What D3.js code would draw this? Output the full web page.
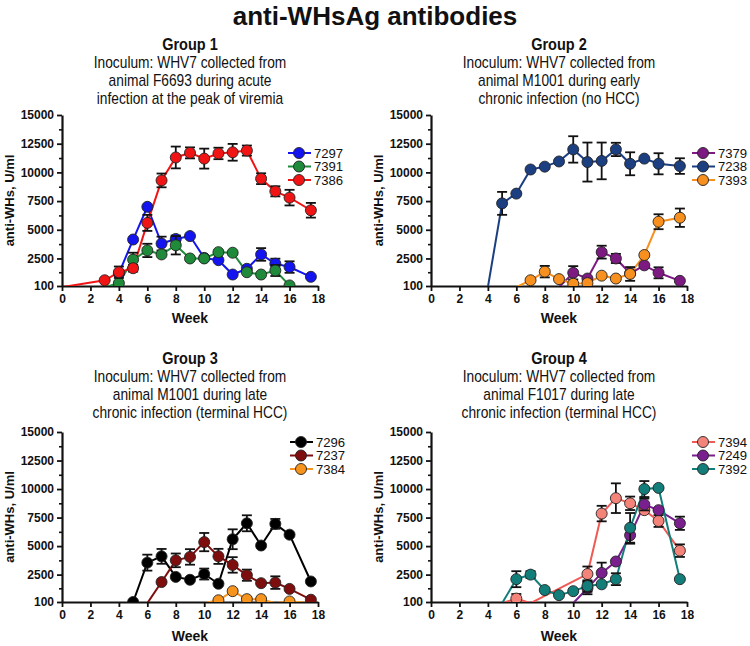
<!DOCTYPE html>
<html><head><meta charset="utf-8">
<script src="https://cdn.jsdelivr.net/npm/d3@7"></script>
<style>body{margin:0;background:#fff}svg{display:block}</style>
</head><body>
<svg id="c" width="750" height="646"></svg>
<script>
// ---------- data ----------
const xTicks = [0,2,4,6,8,10,12,14,16,18];
const yTicks = [100,2500,5000,7500,10000,12500,15000];
const yMinorTicks = [1300,3750,6250,8750,11250,13750];

const chartTitle = "anti-WHsAg antibodies";
const groupTitles = ["Group 1","Group 2","Group 3","Group 4"];
const groupLines1 = ["Inoculum: WHV7 collected from","animal F6693 during acute","infection at the peak of viremia"];
const groupLines2 = ["Inoculum: WHV7 collected from","animal M1001 during early","chronic infection (no HCC)"];
const groupLines3 = ["Inoculum: WHV7 collected from","animal M1001 during late","chronic infection (terminal HCC)"];
const groupLines4 = ["Inoculum: WHV7 collected from","animal F1017 during late","chronic infection (terminal HCC)"];

// Group 1
const g1Names = ["7297","7391","7386"];
const w7297 = [4,5,6,7,8,9,10,11,12,13,14,15,16,17.5];
const v7297 = [1200,4150,7000,3800,4200,4450,2550,2350,1100,1600,2850,2050,1750,900];
const e7297 = [0,0,0,600,300,0,0,0,0,0,550,430,500,0];
const w7391 = [3,4,5,6,7,8,9,10,11,12,13,14,15,16];
const v7391 = [0,350,2400,3200,2850,3650,2500,2500,3050,3000,1300,1100,1450,150];
const e7391 = [0,0,600,580,0,800,0,0,0,0,0,0,480,0];
const w7386 = [0,3,4,5,6,7,8,9,10,11,12,13,14,15,16,17.5];
const v7386 = [0,600,1300,1650,5600,9300,11300,11700,11200,11650,11750,11900,9450,8350,7800,6700];
const e7386 = [0,0,500,300,700,600,950,480,870,500,730,440,470,440,680,640];

// Group 2
const g2Names = ["7379","7238","7393"];
const w7379 = [9,10,11,12,13,14,15,16,17.5];
const v7379 = [0,1250,750,3050,2500,1200,1900,1250,550];
const e7379 = [0,580,0,560,400,0,0,480,0];
const w7238 = [4,5,6,7,8,9,10,11,12,13,14,15,16,17.5];
const v7238 = [0,7300,8150,10250,10500,10950,12000,10900,11000,12000,10750,11200,10750,10550];
const e7238 = [0,1000,0,0,0,0,1150,1700,1600,580,1000,0,920,680];
const w7393 = [6,7,8,9,10,11,12,13,14,15,16,17.5];
const v7393 = [0,600,1350,700,300,350,1000,750,1150,2800,5700,6050];
const e7393 = [0,0,500,0,0,0,0,0,600,0,650,800];

// Group 3
const g3Names = ["7296","7237","7384"];
const w7296 = [5,6,7,8,9,10,11,12,13,14,15,16,17.5];
const v7296 = [100,3550,4100,2300,2050,2550,1700,5600,7000,5050,6950,6000,1900];
const e7296 = [0,700,650,0,0,480,0,870,700,0,430,0,0];
const w7237 = [6,7,8,9,10,11,12,13,14,15,16,17.5];
const v7237 = [0,1850,3750,4050,5350,4100,3350,2450,1750,1800,1250,300];
const e7237 = [0,0,600,680,800,660,680,490,0,550,0,0];
const w7384 = [10,11,12,13,14,15,16,17.5];
const v7384 = [0,250,1050,350,350,0,150,0];
const e7384 = [0,0,0,0,0,0,0,0];

// Group 4
const g4Names = ["7394","7249","7392"];
const w7394 = [5,6,7,11,12,13,14,15,16,17.5];
const v7394 = [0,400,0,2550,7850,9200,8750,8150,7200,4600];
const e7394 = [0,400,0,660,680,1300,590,0,520,550];
const w7249 = [10,11,12,13,14,15,16,17.5];
const v7249 = [0,1300,2650,3650,5950,8650,8150,7000];
const e7249 = [0,520,900,0,740,520,0,580];
const w7392 = [5,6,7,8,9,10,11,12,13,14,15,16,17.5];
const v7392 = [0,2100,2500,1150,700,1050,1500,1650,2100,6600,10000,10100,2100];
const e7392 = [0,700,300,0,0,0,500,0,520,1300,700,0,0];

// ---------- styles ----------
const FONT = "'Liberation Sans', Arial, Helvetica, sans-serif";
const colors = {
  "7297":["#1414f0","#1414f0"], "7391":["#1f8a3a","#1f8a3a"], "7386":["#f01414","#f01414"],
  "7379":["#7d1a82","#7d1a82"], "7238":["#1b3f80","#1b3f80"], "7393":["#f7901e","#f7901e"],
  "7296":["#000000","#000000"], "7237":["#7e0e0e","#7e0e0e"], "7384":["#f7941d","#f7941d"],
  "7394":["#ef5a55","#f4847a"], "7249":["#7a1f8e","#7a1f8e"], "7392":["#137e79","#137e79"]
};

const seriesData = {
  "7297":[w7297,v7297,e7297],"7391":[w7391,v7391,e7391],"7386":[w7386,v7386,e7386],
  "7379":[w7379,v7379,e7379],"7238":[w7238,v7238,e7238],"7393":[w7393,v7393,e7393],
  "7296":[w7296,v7296,e7296],"7237":[w7237,v7237,e7237],"7384":[w7384,v7384,e7384],
  "7394":[w7394,v7394,e7394],"7249":[w7249,v7249,e7249],"7392":[w7392,v7392,e7392]
};

const svg = d3.select("#c");

function ctext(parent, x, y, str, size, weight, sx, anchor){
  return parent.append("text")
    .attr("transform", `translate(${x},${y}) scale(${sx},1)`)
    .attr("text-anchor", anchor || "middle")
    .attr("font-family", FONT).attr("font-size", size).attr("font-weight", weight)
    .attr("fill", "#111").text(str);
}

ctext(svg, 375, 25, chartTitle, 26, "bold", 1, "middle");

const panels = [
  {x0:62, x1:318, top:115, bottom:286, names:g1Names, title:groupTitles[0], lines:groupLines1, tY:50, legX:299, legY:153, weekY:323},
  {x0:431, x1:687, top:115, bottom:286, names:g2Names, title:groupTitles[1], lines:groupLines2, tY:50, legX:703, legY:153, weekY:323},
  {x0:62, x1:318, top:432, bottom:602, names:g3Names, title:groupTitles[2], lines:groupLines3, tY:364, legX:301, legY:442, weekY:641},
  {x0:431, x1:687, top:432, bottom:602, names:g4Names, title:groupTitles[3], lines:groupLines4, tY:364, legX:703, legY:442, weekY:641}
];

panels.forEach((p, pi) => {
  const g = svg.append("g");
  const cx = (p.x0 + p.x1) / 2;
  // titles
  ctext(g, cx, p.tY, p.title, 16.5, "bold", 0.88);
  p.lines.forEach((l, i) => ctext(g, cx, p.tY + 18*(i+1), l, 16, "normal", 0.86));

  const x = d3.scaleLinear().domain([0,18]).range([p.x0, p.x1]);
  const y = d3.scaleLinear().domain([100,15000]).range([p.bottom, p.top]);

  const clipId = "clip" + pi;
  svg.append("clipPath").attr("id", clipId).append("rect")
    .attr("x", p.x0 - 8).attr("y", p.top - 20).attr("width", p.x1 - p.x0 + 20).attr("height", p.bottom - p.top + 20);

  // axes
  const yMinor = g.append("g").attr("transform", `translate(${p.x0},0)`)
    .call(d3.axisLeft(y).tickValues(yMinorTicks).tickSize(3).tickSizeOuter(0).tickFormat(""));
  yMinor.select(".domain").remove();
  yMinor.selectAll("line").attr("stroke", "#111").attr("stroke-width", 1.6);

  const yAx = g.append("g").attr("transform", `translate(${p.x0},0)`)
    .call(d3.axisLeft(y).tickValues(yTicks).tickSize(5).tickPadding(3).tickSizeOuter(0).tickFormat(d3.format("d")));
  yAx.select(".domain").attr("stroke", "#111").attr("stroke-width", 2.2);
  yAx.selectAll("line").attr("stroke", "#111").attr("stroke-width", 1.8);
  yAx.selectAll("text").attr("font-family", FONT).attr("font-size", 12).attr("font-weight", "bold").attr("fill", "#111");

  const xAx = g.append("g").attr("transform", `translate(0,${p.bottom})`)
    .call(d3.axisBottom(x).tickValues(xTicks).tickSize(5).tickPadding(3).tickSizeOuter(0));
  xAx.select(".domain").attr("stroke", "#111").attr("stroke-width", 2.2);
  xAx.selectAll("line").attr("stroke", "#111").attr("stroke-width", 1.8);
  xAx.selectAll("text").attr("font-family", FONT).attr("font-size", 12).attr("font-weight", "bold").attr("fill", "#111");

  // axis labels
  g.append("text").attr("transform", `translate(${p.x0 - 48},${(p.top+p.bottom)/2}) rotate(-90)`)
    .attr("text-anchor", "middle").attr("font-family", FONT).attr("font-size", 13).attr("font-weight", "bold")
    .attr("fill", "#111").text("anti-WHs, U/ml");
  g.append("text").attr("x", cx).attr("y", p.weekY).attr("text-anchor", "middle")
    .attr("font-family", FONT).attr("font-size", 14).attr("font-weight", "bold").attr("fill", "#111").text("Week");

  // series
  const plot = g.append("g").attr("clip-path", `url(#${clipId})`);
  const lineGen = d3.line().x(d => x(d.w)).y(d => y(d.v));
  p.names.forEach(name => {
    const [ws, vs, es] = seriesData[name];
    const pts = ws.map((w, i) => ({w, v: vs[i], e: es[i]}));
    const [lc, fc] = colors[name];
    plot.append("path").datum(pts).attr("d", lineGen)
      .attr("fill", "none").attr("stroke", lc).attr("stroke-width", 2);
  });
  p.names.forEach(name => {
    const [ws, vs, es] = seriesData[name];
    const pts = ws.map((w, i) => ({w, v: vs[i], e: es[i]})).filter(d => d.v >= 100);
    const [lc, fc] = colors[name];
    const eb = plot.append("g").attr("stroke", "#111").attr("stroke-width", 1.8);
    pts.filter(d => d.e > 0).forEach(d => {
      const xx = x(d.w), y1 = y(d.v + d.e), y2 = y(d.v - d.e);
      eb.append("line").attr("x1", xx).attr("x2", xx).attr("y1", y1).attr("y2", y2);
      eb.append("line").attr("x1", xx - 5).attr("x2", xx + 5).attr("y1", y1).attr("y2", y1);
      eb.append("line").attr("x1", xx - 5).attr("x2", xx + 5).attr("y1", y2).attr("y2", y2);
    });
    plot.append("g").selectAll("circle").data(pts).join("circle")
      .attr("cx", d => x(d.w)).attr("cy", d => y(d.v)).attr("r", 5.5)
      .attr("fill", fc).attr("stroke", "#222").attr("stroke-width", 0.9);
  });

  // legend
  p.names.forEach((name, i) => {
    const [lc, fc] = colors[name];
    const ly = p.legY + i * 13.5;
    g.append("line").attr("x1", p.legX - 11).attr("x2", p.legX + 12).attr("y1", ly).attr("y2", ly)
      .attr("stroke", lc).attr("stroke-width", 2);
    g.append("circle").attr("cx", p.legX).attr("cy", ly).attr("r", 5.5)
      .attr("fill", fc).attr("stroke", "#222").attr("stroke-width", 0.9);
    ctext(g, p.legX + 15, ly + 4.5, name, 12.5, "normal", 1.05, "start");
  });
});
</script>
</body></html>
